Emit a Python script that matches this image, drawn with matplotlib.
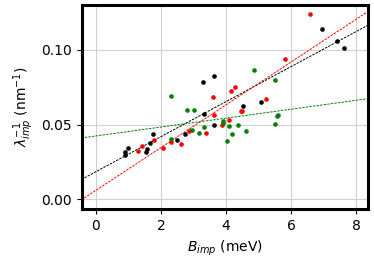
import numpy as np
import matplotlib
matplotlib.use('Agg')
import matplotlib.pyplot as plt

# black set
xb = [0.90, 0.91, 0.99, 1.53, 1.57, 1.67, 1.75, 2.51, 2.73, 3.31, 3.30, 3.63, 3.63,
      4.51, 5.07, 6.97, 7.43, 7.63]
yb = [0.0297, 0.0315, 0.0344, 0.0317, 0.0339, 0.0379, 0.0435, 0.0397, 0.0440, 0.0571,
      0.0788, 0.0826, 0.0500, 0.0625, 0.0652, 0.1141, 0.1060, 0.1011]
# red set
xr = [1.28, 1.43, 1.79, 2.06, 2.30, 2.62, 2.87, 3.38, 3.59, 3.63, 3.89, 4.08, 4.15,
      4.29, 4.47, 4.50, 5.22, 5.81, 6.58]
yr = [0.0324, 0.0357, 0.0400, 0.0342, 0.0382, 0.0368, 0.0458, 0.0446, 0.0685, 0.0563,
      0.0500, 0.0531, 0.0725, 0.0750, 0.0592, 0.0592, 0.0672, 0.0942, 0.1241]
# green set
xg = [2.32, 2.30, 2.81, 3.03, 2.96, 3.17, 3.33, 3.90, 3.92, 4.04, 4.10, 4.19, 4.36,
      4.61, 4.86, 5.50, 5.52, 5.58, 5.60]
yg = [0.0690, 0.0406, 0.0596, 0.0596, 0.0462, 0.0446, 0.0487, 0.0525, 0.0513, 0.0391,
      0.0491, 0.0438, 0.0498, 0.0458, 0.0868, 0.0797, 0.0504, 0.0556, 0.0565]

# linear fits (slope, intercept)
fit_b = (0.01171, 0.0185)
fit_r = (0.0143, 0.0060)
fit_g = (0.00298, 0.0424)

fig = plt.figure(figsize=(3.74, 2.62), dpi=100)
ax = fig.add_axes([0.219, 0.202, 0.765, 0.779])

xx = np.array([-0.45, 8.45])
for (xs, ys, fit, c) in [(xb, yb, fit_b, 'k'), (xr, yr, fit_r, 'r'), (xg, yg, fit_g, 'g')]:
    ax.scatter(xs, ys, s=11, color=c, zorder=3, linewidths=0)
    ax.plot(xx, fit[0]*xx + fit[1], ls='--', color=c, lw=0.7, dashes=(2.5, 1.2), zorder=2)

ax.set_xlim(-0.43, 8.37)
ax.set_ylim(-0.0065, 0.130)
ax.set_xticks([0, 2, 4, 6, 8])
ax.set_yticks([0.0, 0.05, 0.10])
ax.set_yticklabels(['0.00', '0.05', '0.10'])
ax.grid(True, color='#d0d0d0', lw=0.8)
ax.set_axisbelow(True)
for s in ax.spines.values():
    s.set_linewidth(2.2)
ax.tick_params(labelsize=10, length=3.5, width=0.8)
ax.set_xlabel(r'$B_{imp}$ (meV)', fontsize=10)
ax.set_ylabel(r'$\lambda_{imp}^{-1}$ (nm$^{-1}$)', fontsize=10)

fig.savefig('out.png', dpi=100)
